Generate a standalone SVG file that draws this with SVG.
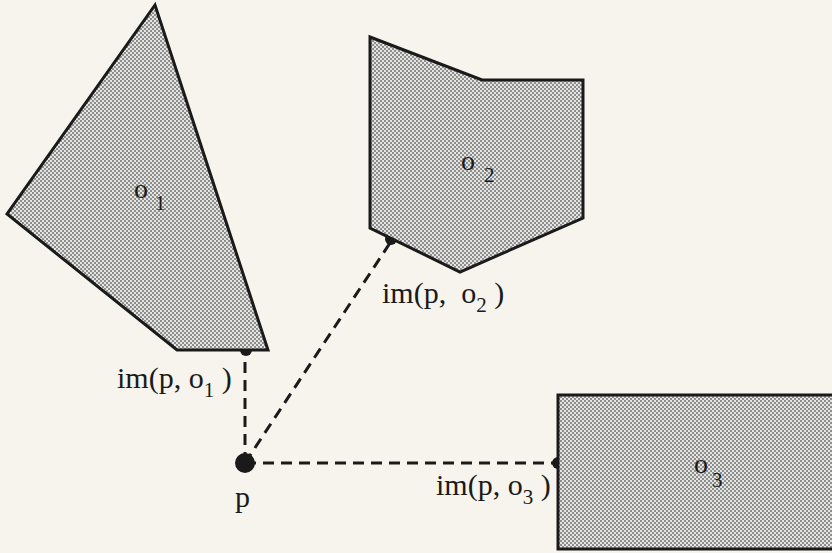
<svg xmlns="http://www.w3.org/2000/svg" width="832" height="553" viewBox="0 0 832 553">
<defs>
<pattern id="stip" width="4" height="4" patternUnits="userSpaceOnUse">
<rect width="4" height="4" fill="#e4e4e0"/>
<rect x="0" y="0" width="2" height="2" fill="#8e8e8e"/>
<rect x="2" y="2" width="2" height="2" fill="#8e8e8e"/>
</pattern>
</defs>
<style>
.obj{fill:url(#stip);stroke:#1a1a1a;stroke-width:3;stroke-linejoin:miter}
.dash{stroke:#1a1a1a;stroke-width:3;stroke-dasharray:11 7;fill:none}
.t{font-family:"Liberation Serif","Times New Roman",serif;fill:#1a1a1a}
.lab{font-size:30px}
.sub{font-size:21px}
.nm{font-size:28px}
.dot{fill:#1a1a1a}
</style>
<rect width="832" height="553" fill="#f6f4ec"/>
<g id="connectors">
<line class="dash" x1="245" y1="463" x2="245" y2="356"/>
<line class="dash" x1="245" y1="463" x2="390" y2="243"/>
<line class="dash" x1="245" y1="463" x2="555" y2="463"/>
<circle class="dot" cx="246" cy="350" r="6"/>
<circle class="dot" cx="391" cy="239" r="6"/>
<circle class="dot" cx="558" cy="463" r="6"/>
</g>
<g id="o1">
<polygon class="obj" points="155,5 7,214 177,350 268,350"/>
<text class="t nm" x="134" y="198">o<tspan class="sub" dx="7" dy="12">1</tspan></text>
</g>
<g id="o2">
<polygon class="obj" points="370,37 482,80 583,80 583,218 460,272 370,228"/>
<text class="t nm" x="461" y="170">o<tspan class="sub" dx="9" dy="12">2</tspan></text>
</g>
<g id="o3">
<rect class="obj" x="558" y="395" width="290" height="154"/>
<text class="t nm" x="694" y="473">o<tspan class="sub" dx="4" dy="14">3</tspan></text>
</g>
<g id="p">
<circle class="dot" cx="245" cy="463" r="10"/>
<text class="t lab" x="235" y="507">p</text>
</g>
<g id="labels">
<text class="t lab" x="117" y="388">im(p, o<tspan class="sub" dy="9">1</tspan><tspan dy="-9"> )</tspan></text>
<text class="t lab" x="382" y="303">im(p,&#160; o<tspan class="sub" dy="9">2</tspan><tspan dy="-9"> )</tspan></text>
<text class="t lab" x="436" y="495">im(p, o<tspan class="sub" dy="9">3</tspan><tspan dy="-9"> )</tspan></text>
</g>
</svg>
